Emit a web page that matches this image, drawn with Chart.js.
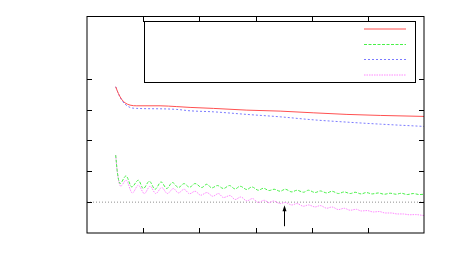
<!DOCTYPE html>
<html>
<head>
<meta charset="utf-8">
<script src="https://cdn.jsdelivr.net/npm/chart.js@4/dist/chart.umd.min.js"></script>
<style>
html,body{margin:0;padding:0;background:#fff;}
#wrap{width:450px;height:279px;}
</style>
</head>
<body>
<div id="wrap"><canvas id="c" width="450" height="279"></canvas></div>
<script>
// ---- data ----
const xTicks = [1, 2, 3, 4, 5];
const yTicks = [1, 2, 3, 4, 5];

const redX  = [0.511,0.558,0.618,0.677,0.766,0.886,1.301,1.598,1.835,2.251,2.846,3.439,4.027,4.628,5.221,6.0];
const redY  = [4.739,4.525,4.330,4.219,4.145,4.122,4.122,4.096,4.070,4.038,3.982,3.950,3.895,3.843,3.810,3.778];

const blueX = [0.511,0.558,0.618,0.677,0.766,0.886,1.301,1.598,1.835,2.251,2.846,3.439,4.027,4.628,5.221,6.0];
const blueY = [4.739,4.518,4.307,4.177,4.070,4.038,4.025,4.005,3.960,3.927,3.843,3.765,3.668,3.593,3.528,3.454];

const greenX = [0.511,0.540,0.588,0.695,0.797,0.914,1.003,1.110,1.212,1.319,1.420,1.520,1.627,1.728,1.826,
  1.924,2.044,2.133,2.222,2.322,2.429,2.536,2.637,2.726,2.846,2.935,3.052,3.141,3.243,3.332,3.439,3.528,
  3.648,3.737,3.854,3.943,4.063,4.152,4.271,4.360,4.478,4.579,4.686,4.775,4.882,4.971,5.078,5.185,5.292,
  5.399,5.506,5.595,5.702,5.809,5.916,6.0];
const greenY = [2.522,1.980,1.603,1.850,1.493,1.710,1.441,1.678,1.418,1.655,1.441,1.636,1.474,1.600,1.483,
  1.603,1.474,1.581,1.461,1.538,1.441,1.538,1.428,1.516,1.409,1.493,1.386,1.451,1.376,1.418,1.353,1.418,
  1.331,1.386,1.321,1.386,1.311,1.363,1.298,1.353,1.279,1.331,1.279,1.321,1.266,1.311,1.266,1.298,1.256,
  1.289,1.256,1.289,1.246,1.279,1.246,1.256];

const magX = [0.511,0.540,0.600,0.695,0.807,0.914,1.021,1.123,1.224,1.331,1.431,1.538,1.627,1.728,1.826,
  1.924,2.026,2.133,2.240,2.340,2.429,2.548,2.637,2.739,2.846,2.945,3.052,3.154,3.243,3.320,3.439,3.528,
  3.648,3.737,3.854,3.943,4.063,4.152,4.271,4.360,4.478,4.579,4.686,4.793,4.882,4.989,5.096,5.203,5.310,
  5.417,5.524,5.631,5.738,5.845,6.0];
const magY = [2.522,1.970,1.516,1.710,1.298,1.548,1.279,1.516,1.279,1.474,1.279,1.441,1.298,1.418,1.272,
  1.353,1.224,1.311,1.191,1.279,1.149,1.214,1.084,1.168,1.039,1.117,0.987,1.061,0.980,1.039,0.954,0.987,
  0.909,0.954,0.867,0.909,0.844,0.889,0.802,0.844,0.759,0.802,0.737,0.769,0.714,0.727,0.682,0.695,0.649,
  0.649,0.617,0.617,0.591,0.597,0.565];

const refX = [0, 6];
const refY = [1, 1];

const arrowX = [3.51];
const arrowFromY = [0.22];
const arrowToY = [0.90];

function pts(xs, ys) { return xs.map((x, i) => ({x: x, y: ys[i]})); }

const frame = {
  id: 'frame',
  afterDatasetsDraw(chart) {
    const ctx = chart.ctx, a = chart.chartArea;
    const xs = chart.scales.x, ys = chart.scales.y;
    ctx.save();
    ctx.strokeStyle = '#000';
    ctx.lineWidth = 1;
    ctx.setLineDash([]);
    // ticks (inward, mirrored)
    const tl = 5;
    ctx.beginPath();
    xTicks.forEach(v => {
      const px = Math.round(xs.getPixelForValue(v)) + 0.5;
      ctx.moveTo(px, a.bottom); ctx.lineTo(px, a.bottom - tl);
      ctx.moveTo(px, a.top); ctx.lineTo(px, a.top + tl);
    });
    yTicks.forEach(v => {
      const py = Math.round(ys.getPixelForValue(v)) + 0.5;
      ctx.moveTo(a.left, py); ctx.lineTo(a.left + tl, py);
      ctx.moveTo(a.right, py); ctx.lineTo(a.right - tl, py);
    });
    ctx.stroke();
    // border
    ctx.strokeRect(a.left, a.top - 0.5, a.right - a.left, a.bottom - a.top + 0.5);
    // key box
    const kx0 = 144.5, kx1 = 415.5, ky0 = 21.5, ky1 = 82.5;
    ctx.fillStyle = '#fff';
    ctx.fillRect(kx0, ky0, kx1 - kx0, ky1 - ky0);
    ctx.strokeRect(kx0, ky0, kx1 - kx0, ky1 - ky0);
    const rows = [29, 44.5, 59.5, 75];
    [0, 1, 2, 3].forEach(i => {
      const ds = chart.data.datasets[i];
      ctx.beginPath();
      ctx.strokeStyle = ds.borderColor;
      ctx.setLineDash(ds.borderDash || []);
      ctx.moveTo(364, rows[i]); ctx.lineTo(406, rows[i]);
      ctx.stroke();
    });
    // arrow
    ctx.setLineDash([]);
    ctx.strokeStyle = '#000';
    ctx.fillStyle = '#000';
    arrowX.forEach((v, i) => {
      const px = Math.round(xs.getPixelForValue(v)) + 0.5;
      const y0 = ys.getPixelForValue(arrowFromY[i]);
      const y1 = ys.getPixelForValue(arrowToY[i]);
      ctx.beginPath();
      ctx.moveTo(px, y0); ctx.lineTo(px, y1 + 3);
      ctx.stroke();
      ctx.beginPath();
      ctx.moveTo(px, y1); ctx.lineTo(px - 2, y1 + 6); ctx.lineTo(px + 2, y1 + 6); ctx.closePath();
      ctx.fill();
    });
    ctx.restore();
  }
};

new Chart(document.getElementById('c'), {
  type: 'line',
  data: {
    datasets: [
      {label: '', data: pts(redX, redY), borderColor: '#ff5050', borderWidth: 1, pointRadius: 0, cubicInterpolationMode: 'monotone', fill: false},
      {label: '', data: pts(greenX, greenY), borderColor: '#48f048', borderWidth: 1, borderDash: [3, 1.5], pointRadius: 0, cubicInterpolationMode: 'monotone', fill: false},
      {label: '', data: pts(blueX, blueY), borderColor: '#7a7aff', borderWidth: 1, borderDash: [2, 2], pointRadius: 0, cubicInterpolationMode: 'monotone', fill: false},
      {label: '', data: pts(magX, magY), borderColor: '#ff88ff', borderWidth: 1, borderDash: [1.5, 1], pointRadius: 0, cubicInterpolationMode: 'monotone', fill: false},
      {label: '', data: pts(refX, refY), borderColor: '#909090', borderWidth: 1, borderDash: [1, 2], pointRadius: 0, fill: false}
    ]
  },
  options: {
    responsive: false,
    animation: false,
    devicePixelRatio: 1,
    layout: {padding: {left: 87, top: 17, right: 26, bottom: 46}},
    plugins: {legend: {display: false}, tooltip: {enabled: false}, title: {display: false}},
    scales: {
      x: {type: 'linear', min: 0, max: 6,
          ticks: {display: false}, grid: {display: false, drawTicks: false}, border: {display: false}},
      y: {type: 'linear', min: 0, max: 7,
          ticks: {display: false}, grid: {display: false, drawTicks: false}, border: {display: false}}
    }
  },
  plugins: [frame]
});
</script>
</body>
</html>
